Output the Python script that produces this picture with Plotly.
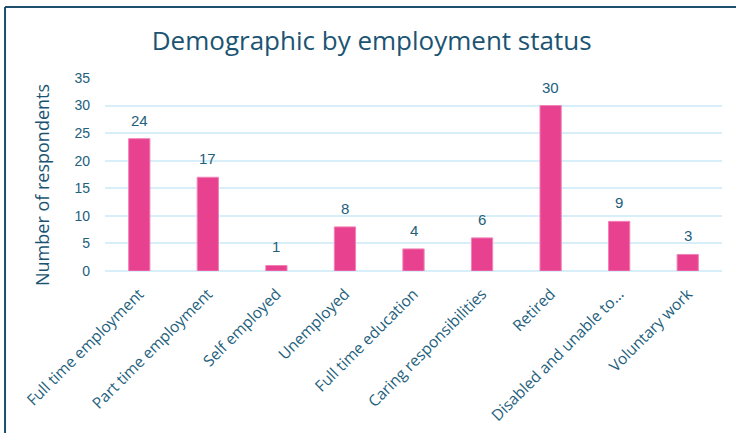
import plotly.graph_objects as go

categories = [
    "Full time employment",
    "Part time employment",
    "Self employed",
    "Unemployed",
    "Full time education",
    "Caring responsibilities",
    "Retired",
    "Disabled and unable to...",
    "Voluntary work",
]
respondents = [24, 17, 1, 8, 4, 6, 30, 9, 3]
y_ticks = [0, 5, 10, 15, 20, 25, 30, 35]

TEXT = "#22607c"
TITLE = "#1b5472"
BAR = "#e8418f"
GRID = "#d8effa"
FRAME = "#1d4e6c"

fig = go.Figure(
    go.Bar(
        x=categories,
        y=respondents,
        marker=dict(color=BAR, line=dict(color="#f183b6", width=1)),
        hoverinfo="x+y",
    )
)

# value labels above each bar
for cat, val in zip(categories, respondents):
    fig.add_annotation(
        x=cat, y=val, text=str(val), showarrow=False,
        yanchor="bottom", yshift=8,
        font=dict(family="Liberation Sans, Arial, sans-serif", size=15, color=TEXT),
    )

# y-axis title
fig.add_annotation(
    x=-0.102, y=0.446, xref="paper", yref="paper",
    xanchor="center", yanchor="middle",
    text="Number of respondents", textangle=-90, showarrow=False,
    font=dict(family="Open Sans, sans-serif", size=18, color=TITLE),
)

# card frame (top and left edges)
fig.add_shape(type="line", xref="paper", yref="paper",
              x0=-0.162, x1=1.06, y0=1.368, y1=1.368,
              line=dict(color=FRAME, width=2))
fig.add_shape(type="line", xref="paper", yref="paper",
              x0=-0.162, x1=-0.162, y0=1.368, y1=-0.9,
              line=dict(color=FRAME, width=2))

fig.update_layout(
    width=736, height=433,
    margin=dict(l=105, r=14, t=78, b=162),
    paper_bgcolor="white", plot_bgcolor="white",
    bargap=0.69,
    showlegend=False,
    title=dict(
        text="Demographic by employment status",
        x=0.505, xanchor="center", y=0.905, yanchor="middle",
        font=dict(family="Open Sans, sans-serif", size=26, color=TITLE),
    ),
    xaxis=dict(
        tickangle=-45,
        tickfont=dict(family="Open Sans, sans-serif", size=15.5, color=TEXT),
        showgrid=False, showline=False, ticks="",
        ticklabelstandoff=10, automargin=False,
    ),
    yaxis=dict(
        range=[0, 35], tickvals=y_ticks,
        tickfont=dict(family="Liberation Sans, Arial, sans-serif", size=14, color=TEXT),
        showgrid=True, gridcolor=GRID, gridwidth=1.5,
        zeroline=True, zerolinecolor=GRID, zerolinewidth=1.5,
        showline=False, ticks="",
        ticklabelstandoff=14, automargin=False,
    ),
)

fig.write_html("out.html")
